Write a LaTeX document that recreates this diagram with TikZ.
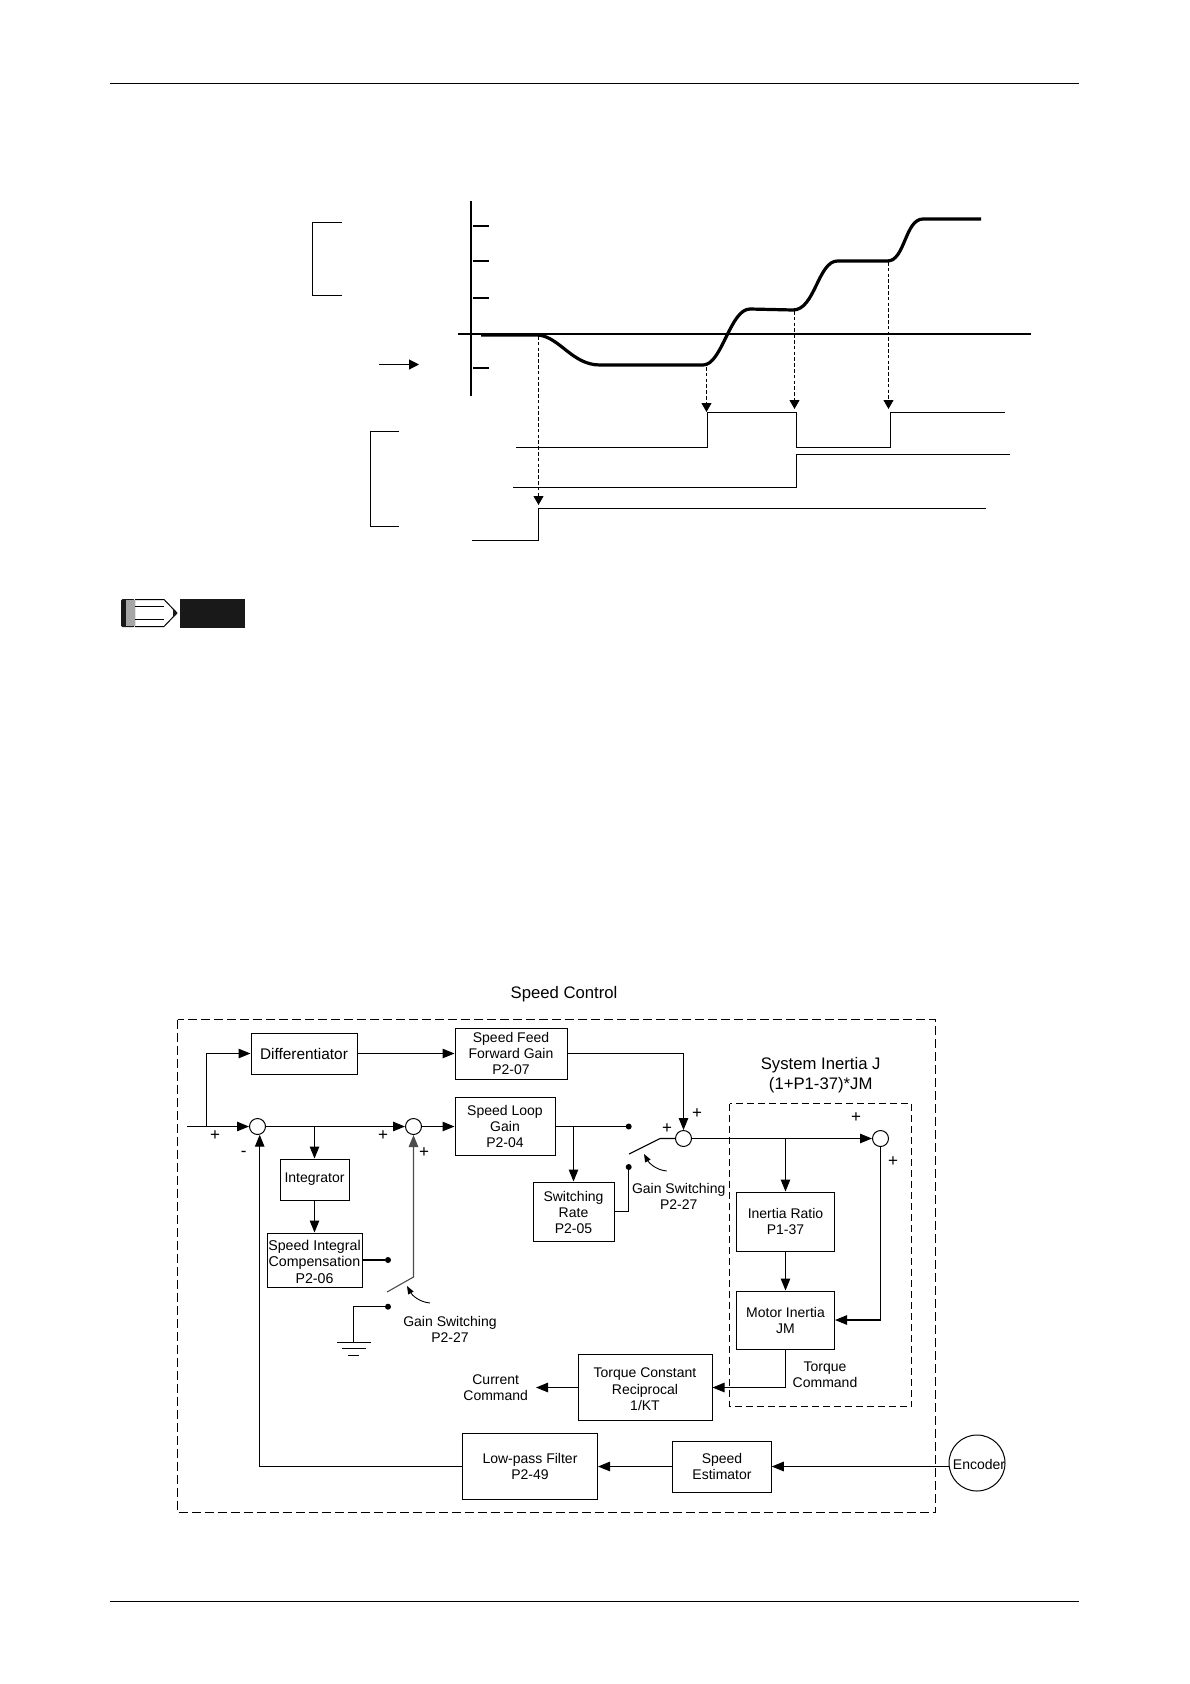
\documentclass[tikz,border=0pt]{standalone}
\usepackage{xcolor}
\usepackage{fontspec}
\setmainfont{Liberation Sans}
\usetikzlibrary{arrows.meta}

\tikzset{
    wire/.style={line width=1.1pt},
    arr/.style={wire, -{Triangle[length=12pt,width=9.5pt]}},
    blk/.style={draw, line width=1pt, align=center, inner sep=0pt, font=\fontsize{14}{16}\selectfont},
    sumpt/.style={draw, line width=1pt, circle, minimum size=16pt, inner sep=0pt},
    dotpt/.style={fill, circle, minimum size=6pt, inner sep=0pt},
    lbl/.style={align=center, inner sep=0pt, font=\fontsize{14}{16}\selectfont},
    bigl/.style={align=center, inner sep=0pt, font=\fontsize{16.7}{20}\selectfont},
    sgn/.style={inner sep=0pt, font=\fontsize{17}{17}\selectfont},
    dsh/.style={line width=0.9pt, dash pattern=on 3.6pt off 2.2pt},
    dtip/.style={-{Triangle[length=9pt,width=10pt]}},
    swarr/.style={line width=0.9pt, -{Triangle[length=8pt,width=6pt]}},
}

\begin{document}
\begin{tikzpicture}[x=1pt, y=-1pt]
    \useasboundingbox (0,0) rectangle (1190,1684);

    % page rules
    \draw[line width=0.9pt] (110,83.5) -- (1079,83.5);
    \draw[line width=0.9pt] (110,1601.5) -- (1079,1601.5);

    % speed curve
    \draw[line width=1.7pt] (471,201) -- (471,396);
    \foreach \ty in {226,261,298,368}
        \draw[line width=1.6pt] (473,\ty) -- (489,\ty);
    \draw[line width=1.6pt] (458,334) -- (1031,334);
    \draw[line width=3.2pt] (481,335) -- (538,335)
        .. controls (560,337) and (572,365) .. (600,365) -- (703,365)
        .. controls (722,365) and (730,309) .. (750,309) -- (793,310)
        .. controls (815,310) and (818,261) .. (837.5,261) -- (887.5,261)
        .. controls (905,261) and (905,219) .. (923,219) -- (981,219);
    \draw[line width=1pt] (342,222.5) -- (312.5,222.5) -- (312.5,295.5) -- (342,295.5);
    \draw[line width=1pt] (399,431.5) -- (370.5,431.5) -- (370.5,526.5) -- (399,526.5);
    \draw[wire, -{Triangle[length=10pt,width=10pt]}] (379,364.5) -- (419,364.5);

    % steps
    \draw[line width=1pt] (516,447.5) -- (707.5,447.5) -- (707.5,412.5) -- (796.5,412.5) -- (796.5,447.5) -- (890.5,447.5) -- (890.5,412.5) -- (1005,412.5);
    \draw[line width=1pt] (513,487.5) -- (796.5,487.5) -- (796.5,454.5) -- (1010,454.5);
    \draw[line width=1pt] (472,540.5) -- (538.5,540.5) -- (538.5,508.5) -- (986,508.5);
    \draw[dsh, dtip] (538.5,336) -- (538.5,505);
    \draw[dsh, dtip] (706.5,367) -- (706.5,412);
    \draw[dsh, dtip] (794.5,311) -- (794.5,409);
    \draw[dsh, dtip] (888.5,262) -- (888.5,409);

    % note icon
    \fill[black!90] (180,599) rectangle (245,628);
    \draw[line width=1pt] (135,599.5) -- (164,599.5) -- (177,613) -- (164,626.5) -- (135,626.5);
    \fill[black!90, rounded corners=1.5pt] (135,599) -- (121,599) -- (121,627) -- (135,627) -- cycle;
    \fill[black!35] (126,600) rectangle (135,626);
    \draw[line width=1.2pt] (135,606.5) -- (164,606.5);
    \draw[line width=1pt] (135,619.5) -- (164,619.5);
    \fill[black!90] (173,609) -- (177,613) -- (173,617) -- cycle;

    % speed control
    \node[bigl] (ttl) at (564,994) {Speed Control};
    \draw[line width=0.9pt, dash pattern=on 9pt off 4pt] (177.5,1019.5) rectangle (935.5,1512.5);
    \draw[line width=0.9pt, dash pattern=on 7pt off 4pt] (729.5,1103.5) rectangle (911.5,1406.5);
    \node[bigl] (sysj) at (820.7,1075.5) {System Inertia J\\(1+P1-37)*JM};

    \node[blk, minimum width=106pt, minimum height=41pt, font=\fontsize{15.4}{17}\selectfont] (dif) at (304,1053.5) {Differentiator};
    \node[blk, minimum width=112pt, minimum height=51pt] (ff) at (511,1053.5) {Speed Feed\\Forward Gain\\P2-07};
    \node[blk, minimum width=100pt, minimum height=58pt] (loop) at (505,1126.5) {Speed Loop\\Gain\\P2-04};
    \node[blk, minimum width=69pt, minimum height=41pt] (intg) at (314.5,1179.5) {Integrator};
    \node[blk, minimum width=95pt, minimum height=54pt, font=\fontsize{14.2}{16.5}\selectfont] (comp) at (314.5,1260) {\rule{0pt}{14pt}Speed Integral\\Compensation\\P2-06};
    \node[blk, minimum width=81pt, minimum height=59pt] (rate) at (573.5,1211.5) {\rule{0pt}{12pt}Switching\\Rate\\P2-05};
    \node[blk, minimum width=98pt, minimum height=59pt] (inr) at (785.5,1221.5) {Inertia Ratio\\P1-37};
    \node[blk, minimum width=98pt, minimum height=58pt] (mot) at (785.5,1320) {Motor Inertia\\JM};
    \node[blk, minimum width=134pt, minimum height=66pt, font=\fontsize{14}{16.5}\selectfont] (tq) at (645,1387.5) {\rule{0pt}{14pt}Torque Constant\\Reciprocal\\1/KT};
    \node[blk, minimum width=135pt, minimum height=66pt] (lpf) at (530,1466.5) {Low-pass Filter\\P2-49};
    \node[blk, minimum width=98.5pt, minimum height=51pt] (est) at (722,1466.5) {Speed\\Estimator};
    \node[blk, circle, minimum size=56pt] (enc) at (977,1463) {\raisebox{-2pt}[8pt][0pt]{\makebox[44pt]{\hspace*{4pt}Encoder}}};

    \node[sumpt] (s1) at (257.5,1126.5) {};
    \node[sumpt] (s2) at (413.5,1126.5) {};
    \node[sumpt] (s3) at (683.5,1138.5) {};
    \node[sumpt] (s4) at (880.5,1138.5) {};
    \node[dotpt] (d1) at (628.7,1126.5) {};
    \node[dotpt] (d2) at (628.7,1167) {};
    \node[dotpt] (d3) at (388,1260) {};
    \node[dotpt] (d4) at (388,1306.7) {};

    \coordinate (in) at (187,1126.5);
    \coordinate (jin) at (206.5,1126.5);
    \coordinate (jint) at (intg |- s1);
    \coordinate (jrate) at (rate |- loop.east);
    \coordinate (jinr) at (inr |- s3);
    \coordinate (cmd) at (536,1387.5);
    \coordinate (swa) at (629,1154);
    \coordinate (swb) at (660,1138.5);
    \coordinate (swc) at (387,1292);
    \coordinate (swd) at (413.5,1277);
    \coordinate (gnd) at (353.5,1342.5);

    \draw[arr] (in) -- (s1);
    \draw[arr] (jin) |- (dif.west);
    \draw[arr] (dif) -- (ff);
    \draw[arr] (ff.east) -| (s3.north);
    \draw[arr] (s1) -- (s2);
    \draw[arr] (jint) -- (intg);
    \draw[arr] (intg) -- (comp);
    \draw[arr] (s2) -- (loop);
    \draw[wire] (loop.east) -- (d1);
    \draw[arr] (jrate) -- (rate);
    \draw[wire] (rate.east) -| (d2);
    \draw[wire] (swa) -- (swb) -- (s3.west);
    \draw[arr] (s3) -- (s4);
    \draw[arr] (jinr) -- (inr);
    \draw[arr] (inr) -- (mot);
    \draw[arr] (s4.south) |- (mot.east);
    \draw[arr] (mot.south) |- (tq.east);
    \draw[arr] (tq.west) -- (cmd);
    \draw[arr] (est.east -| enc.west) -- (est.east);
    \draw[arr] (est.west) -- (lpf.east);
    \draw[arr] (lpf.west) -| (s1.-75);
    \draw[wire] (comp.east) -- (d3);
    \draw[arr, black!70] (swc) -- (swd) -- (s2.south);
    \draw[wire] (d4) -| (gnd);
    \draw[wire] (337,1342.5) -- (371,1342.5);
    \draw[wire] (342,1348.5) -- (366,1348.5);
    \draw[wire] (348,1355.5) -- (359,1355.5);

    % switch pointers
    \coordinate (ptra) at (666.7,1171);
    \coordinate (ptrb) at (644,1154);
    \coordinate (ptrc) at (430,1303);
    \coordinate (ptrd) at (407,1286);
    \draw[swarr] (ptra) .. controls (656,1170) and (649,1163) .. (ptrb);
    \draw[swarr] (ptrc) .. controls (419,1302) and (412,1295) .. (ptrd);

    \node[lbl] (gs1) at (678.7,1196.5) {Gain Switching\\P2-27};
    \node[lbl] (gs2) at (450,1329) {Gain Switching\\P2-27};
    \node[lbl] (tqc) at (825,1375) {Torque\\Command};
    \node[lbl] (cur) at (495.7,1388) {Current\\Command};

    \node[sgn] (p1) at (215,1136) {+};
    \node[sgn] (m1) at (243.7,1154) {-};
    \node[sgn] (p2) at (383,1136) {+};
    \node[sgn] (p3) at (424,1153) {+};
    \node[sgn] (p4) at (667,1129) {+};
    \node[sgn] (p5) at (697,1114) {+};
    \node[sgn] (p6) at (856,1118) {+};
    \node[sgn] (p7) at (893,1162) {+};
\end{tikzpicture}
\end{document}
